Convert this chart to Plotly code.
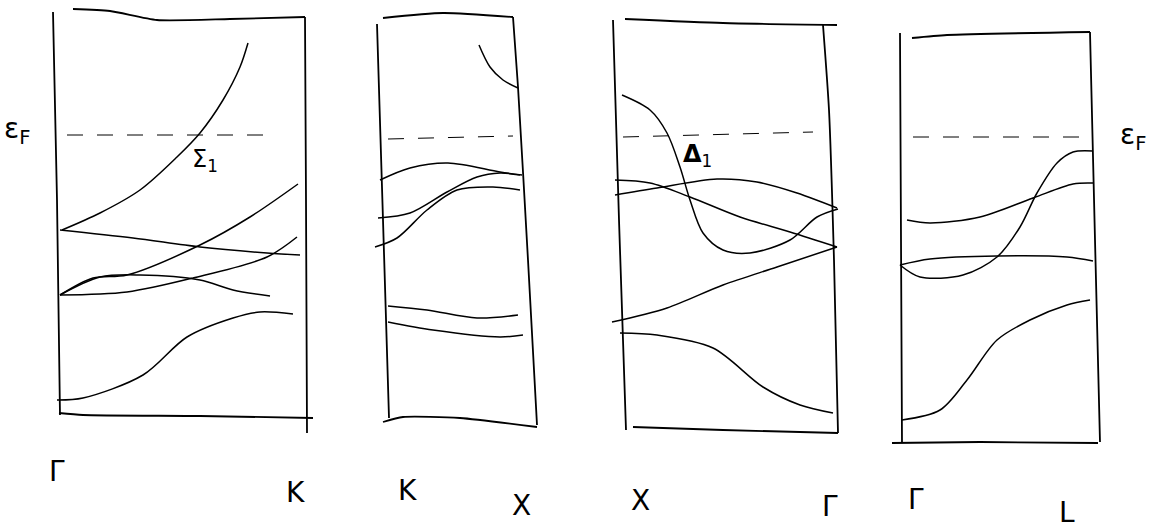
import plotly.graph_objects as go

# Sketch of band structure along Γ-K, K-X, X-Γ, Γ-L (drawing units: k to the right, energy downward)

# Panel frames (hand-drawn outlines)
frame1_left = [(53, 12), (57, 200), (60, 415)]
frame1_top = [(73, 9), (110, 11), (157, 20), (230, 19), (305, 17)]
frame1_right = [(305, 17), (306, 200), (307, 433)]
frame1_bottom = [(59, 413), (83, 415), (200, 416), (313, 418)]

frame2_left = [(377, 24), (383, 220), (389, 418)]
frame2_top = [(383, 18), (443, 13), (513, 17)]
frame2_right = [(513, 17), (518, 87), (528, 260), (537, 425)]
frame2_bottom = [(383, 422), (403, 417), (460, 418), (537, 427)]

frame3_left = [(613, 20), (619, 220), (626, 430)]
frame3_top = [(625, 19), (723, 23), (837, 25)]
frame3_right = [(823, 25), (829, 110), (834, 260), (838, 433)]
frame3_bottom = [(633, 427), (723, 430), (838, 433)]

frame4_left = [(900, 33), (901, 240), (902, 443)]
frame4_top = [(912, 38), (947, 35), (1090, 32)]
frame4_right = [(1090, 32), (1095, 240), (1100, 442)]
frame4_bottom = [(892, 443), (980, 442), (1098, 443)]

# Fermi level in each panel
fermi1 = [(67, 135), (265, 135)]
fermi2 = [(388, 139), (513, 136)]
fermi3 = [(623, 137), (813, 132)]
fermi4 = [(913, 137), (1088, 137)]

# Bands, Γ → K
gk_sigma1 = [(62, 230), (100, 213), (140, 190), (177, 157), (200, 133), (223, 100), (240, 67), (248, 43)]
gk_flat = [(60, 230), (133, 238), (200, 247), (267, 253), (300, 255)]
gk_rise = [(60, 295), (93, 278), (127, 275), (200, 245), (250, 217), (298, 184)]
gk_mid = [(60, 295), (127, 292), (193, 278), (267, 257), (297, 237)]
gk_hump = [(60, 295), (100, 277), (140, 275), (200, 280), (233, 290), (270, 296)]
gk_low = [(57, 400), (83, 398), (143, 375), (187, 337), (233, 318), (260, 312), (293, 314)]

# Bands, K → X
kx_top = [(479, 45), (490, 67), (503, 80), (518, 88)]
kx_a = [(380, 180), (410, 168), (448, 163), (500, 172), (522, 175)]
kx_b = [(378, 218), (410, 213), (447, 192), (477, 177), (500, 173), (520, 175)]
kx_c = [(375, 247), (397, 238), (427, 210), (457, 190), (493, 187), (520, 190)]
kx_d = [(388, 306), (427, 310), (477, 318), (518, 315)]
kx_e = [(388, 322), (433, 330), (500, 337), (523, 335)]

# Bands, X → Γ
xg_delta1 = [(622, 95), (650, 110), (667, 133), (680, 167), (690, 200), (703, 233),
             (723, 250), (750, 253), (790, 240), (817, 217), (838, 209)]
xg_fall = [(615, 180), (650, 183), (690, 197), (740, 217), (790, 232), (837, 247)]
xg_hump = [(615, 195), (657, 188), (717, 179), (757, 182), (797, 193), (837, 208)]
xg_rise = [(612, 322), (667, 308), (723, 285), (777, 267), (837, 247)]
xg_low = [(620, 333), (657, 335), (713, 348), (763, 387), (800, 405), (833, 413)]

# Bands, Γ → L
gl_s = [(900, 265), (920, 277), (963, 275), (997, 257), (1020, 227), (1037, 193),
        (1057, 163), (1073, 152), (1093, 151)]
gl_upper = [(907, 220), (930, 223), (980, 217), (1033, 198), (1073, 184), (1093, 183)]
gl_flat = [(900, 265), (930, 259), (997, 256), (1067, 257), (1093, 261)]
gl_low = [(902, 420), (940, 410), (967, 380), (997, 340), (1030, 320), (1067, 305), (1090, 300)]

# Symmetry point labels along the bottom
kpoint_labels = ["Γ", "K", "K", "X", "X", "Γ", "Γ", "L"]
kpoint_x = [57, 295, 407, 521, 640, 830, 916, 1067]
kpoint_y = [471, 492, 490, 505, 500, 506, 499, 512]

frames = [frame1_left, frame1_top, frame1_right, frame1_bottom,
          frame2_left, frame2_top, frame2_right, frame2_bottom,
          frame3_left, frame3_top, frame3_right, frame3_bottom,
          frame4_left, frame4_top, frame4_right, frame4_bottom]
bands = [gk_sigma1, gk_flat, gk_rise, gk_mid, gk_hump, gk_low,
         kx_top, kx_a, kx_b, kx_c, kx_d, kx_e,
         xg_delta1, xg_fall, xg_hump, xg_rise, xg_low,
         gl_s, gl_upper, gl_flat, gl_low]
fermis = [fermi1, fermi2, fermi3, fermi4]

fig = go.Figure()


def add_path(pts, width, dash="solid", smooth=0.9):
    fig.add_trace(go.Scatter(
        x=[p[0] for p in pts], y=[p[1] for p in pts], mode="lines",
        line=dict(color="black", width=width, dash=dash, shape="spline", smoothing=smooth),
        hoverinfo="skip", showlegend=False))


for f in frames:
    add_path(f, 1.8, smooth=0.6)
for b in bands:
    add_path(b, 1.5)
for fl in fermis:
    add_path(fl, 1.0, dash="16px,14px", smooth=0)

label_font = dict(family="DejaVu Sans", size=28, color="black")
for lbl, lx, ly in zip(kpoint_labels, kpoint_x, kpoint_y):
    fig.add_annotation(x=lx, y=ly, text=lbl, showarrow=False, font=label_font,
                       xanchor="center", yanchor="middle")

annotations = [
    dict(x=17, y=130, text="ε<sub>F</sub>", size=28),
    dict(x=1133, y=136, text="ε<sub>F</sub>", size=28),
    dict(x=205, y=160, text="Σ<sub>1</sub>", size=24),
    dict(x=697, y=155, text="<b>Δ</b><sub>1</sub>", size=24),
]
for a in annotations:
    fig.add_annotation(x=a["x"], y=a["y"], text=a["text"], showarrow=False,
                       font=dict(family="DejaVu Sans", size=a["size"], color="black"),
                       xanchor="center", yanchor="middle")

fig.update_layout(
    width=1165, height=532,
    margin=dict(l=0, r=0, t=0, b=0),
    paper_bgcolor="white", plot_bgcolor="white",
    xaxis=dict(range=[0, 1165], visible=False, fixedrange=True),
    yaxis=dict(range=[532, 0], visible=False, fixedrange=True),
)

fig.write_html("out.html")
